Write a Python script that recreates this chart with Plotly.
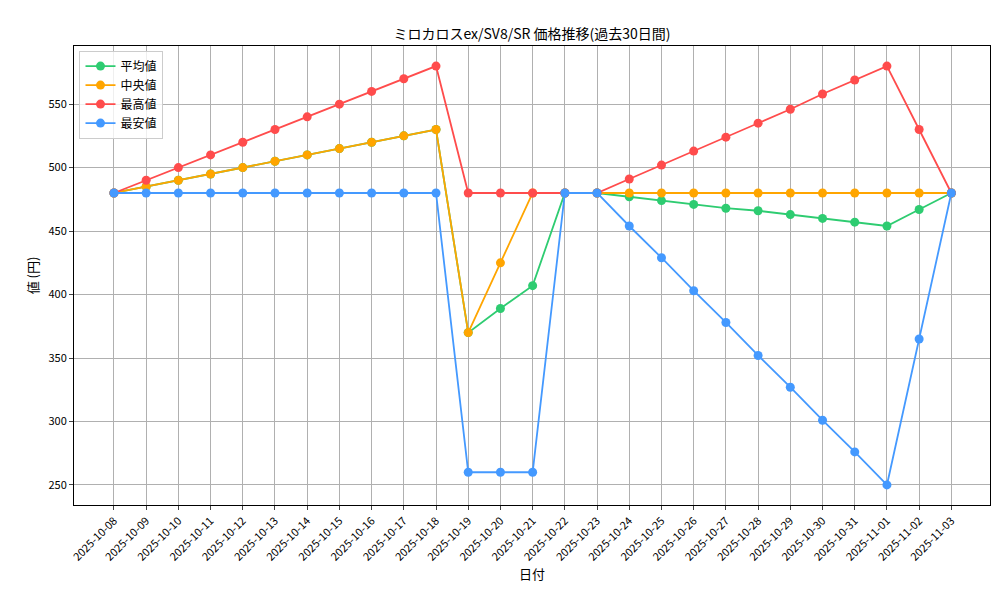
import plotly.graph_objects as go

dates = ["2025-10-%02d" % d for d in range(8, 32)] + ["2025-11-01", "2025-11-02", "2025-11-03"]
avg_vals = [480,485,490,495,500,505,510,515,520,525,530,370,389,407,480,480,477,474,471,468,466,463,460,457,454,467,480]
med_vals = [480,485,490,495,500,505,510,515,520,525,530,370,425,480,480,480,480,480,480,480,480,480,480,480,480,480,480]
max_vals = [480,490,500,510,520,530,540,550,560,570,580,480,480,480,480,480,491,502,513,524,535,546,558,569,580,530,480]
min_vals = [480,480,480,480,480,480,480,480,480,480,480,260,260,260,480,480,454,429,403,378,352,327,301,276,250,365,480]

series = [("平均値", avg_vals, "#2ecc71"), ("中央値", med_vals, "#FFA500"),
          ("最高値", max_vals, "#ff4c4c"), ("最安値", min_vals, "#4499ff")]

fig = go.Figure()
for name, vals, col in series:
    fig.add_trace(go.Scatter(x=dates, y=vals, name=name, mode="lines+markers",
                             line=dict(color=col, width=1.8), marker=dict(color=col, size=9)))

font = "Noto Sans CJK JP, DejaVu Sans"
fig.update_layout(
    width=1000, height=600, plot_bgcolor="white", paper_bgcolor="white",
    font=dict(family=font, size=11, color="black"),
    title=dict(text="ミロカロスex/SV8/SR 価格推移(過去30日間)", x=0.524, y=0.965, xanchor="center", font=dict(size=14)),
    margin=dict(l=66, r=18, t=38, b=103, autoexpand=False),
    legend=dict(x=0.006, y=0.99, xanchor="left", yanchor="top", bordercolor="#cccccc", borderwidth=1,
                bgcolor="rgba(255,255,255,0.8)", font=dict(size=12)),
    xaxis=dict(title=dict(text="日付", standoff=4), type="category", range=[-1.24, 27.2], tickangle=-45,
               showgrid=True, gridcolor="#b0b0b0", showline=True, linecolor="black", mirror=True,
               ticks="outside", ticklen=4, automargin=False),
    yaxis=dict(title=dict(text="値 (円)", standoff=6), range=[234.2, 595.8], tickvals=[250,300,350,400,450,500,550],
               showgrid=True, gridcolor="#b0b0b0", showline=True, linecolor="black", mirror=True,
               ticks="outside", ticklen=4, zeroline=False, automargin=False),
)
fig.write_html("out.html")
